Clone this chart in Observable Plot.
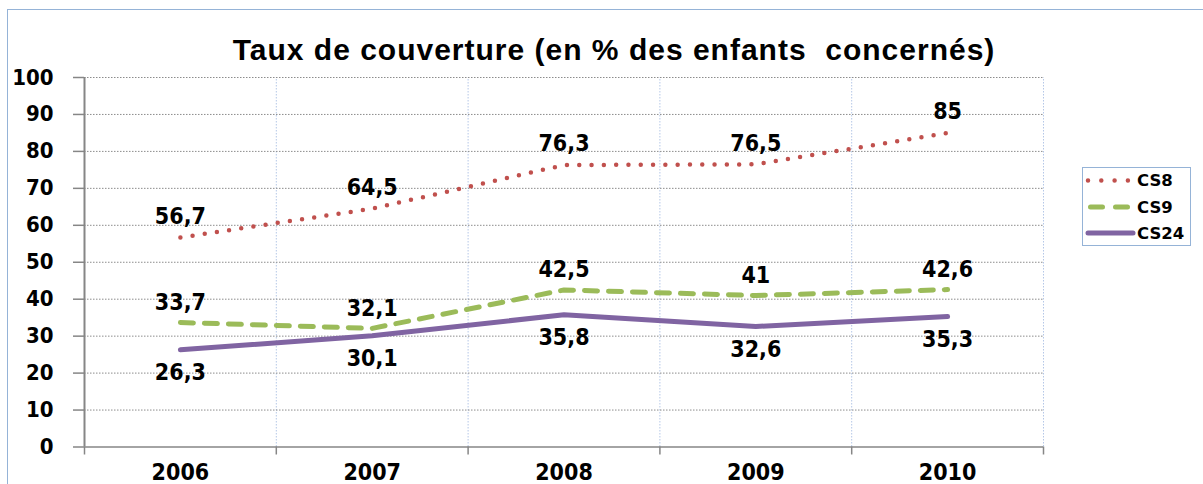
<!DOCTYPE html>
<html><head><meta charset="utf-8">
<script src="https://cdn.jsdelivr.net/npm/d3@7"></script>
<script src="https://cdn.jsdelivr.net/npm/@observablehq/plot@0.6"></script>
<style>
html,body{margin:0;padding:0;background:#fff;overflow:hidden;}
#wrap{position:relative;width:1203px;height:484px;overflow:hidden;}
#frame{position:absolute;left:7px;top:9px;width:1300px;height:600px;border:1.5px solid #95b3d7;box-sizing:border-box;}
#title{position:absolute;left:0;width:1228px;top:35px;text-align:center;font:bold 30px "Liberation Sans",Arial,sans-serif;letter-spacing:1px;white-space:pre;line-height:30px;color:#000;}
#chart{position:absolute;left:0;top:0;}
#chart text{font-family:"DejaVu Sans Condensed","DejaVu Sans",sans-serif;font-weight:bold;font-stretch:condensed;fill:#000;}
#legend{position:absolute;left:1082px;top:167px;width:109px;height:79px;border:1.5px solid #95b3d7;box-sizing:border-box;background:#fff;}
#legend svg{position:absolute;left:-1.5px;top:-1.5px;}
#legend text{font-family:"DejaVu Sans",sans-serif;font-weight:bold;font-size:16.5px;fill:#000;}
</style></head><body>
<div id="wrap"><div id="frame"></div><div id="chart"></div><div id="title">Taux de couverture (en % des enfants  concernés)</div><div id="legend"></div></div>
<script>
const years = [2006, 2007, 2008, 2009, 2010];
const cs8 = [56.7, 64.5, 76.3, 76.5, 85];
const cs9 = [33.7, 32.1, 42.5, 41, 42.6];
const cs24 = [26.3, 30.1, 35.8, 32.6, 35.3];
const yTicks = [0, 10, 20, 30, 40, 50, 60, 70, 80, 90, 100];
const seriesNames = ["CS8", "CS9", "CS24"];
const seriesColors = ["#c0504d", "#9bbb59", "#8064a2"];

const seriesValues = [cs8, cs9, cs24];
const rows = seriesValues.map(vals => years.map((yr, i) => ({year: yr, value: vals[i]})));
const bounds = years.map(y => y - 0.5).concat([years[years.length - 1] + 0.5]);
const fmt = v => String(v).replace(".", ",");
const gridColor = "#8c8c8c";
const axisColor = "#868686";

const chart = Plot.plot({
  width: 1203,
  height: 484,
  marginLeft: 84,
  marginRight: 160,
  marginTop: 77,
  marginBottom: 37.5,
  style: {background: "transparent", color: "#000", overflow: "visible"},
  x: {type: "linear", domain: [bounds[0], bounds[bounds.length - 1]]},
  y: {domain: [0, 100]},
  marks: [
    Plot.ruleX(bounds.slice(1), {y1: 0, y2: 100, stroke: "#b4c7e7", strokeWidth: 1, strokeDasharray: "1.5,1.5"}),
    Plot.ruleY(yTicks.slice(1), {stroke: gridColor, strokeWidth: 1, strokeDasharray: "1.5,1.5"}),
    Plot.axisY(yTicks, {tickSize: 11, tickPadding: 20, fontSize: 22, stroke: axisColor, strokeWidth: 1.5, label: null, tickFormat: d => String(d)}),
    Plot.axisX(bounds, {tickSize: 8, tickPadding: 0, stroke: axisColor, strokeWidth: 1.5, label: null, tickFormat: () => ""}),
    Plot.axisX(years, {tickSize: 0, tickPadding: 17, fontSize: 23, label: null, tickFormat: d => String(d)}),
    Plot.ruleY([0], {x1: bounds[0], x2: bounds[bounds.length - 1], stroke: axisColor, strokeWidth: 1.5}),
    Plot.ruleX([bounds[0]], {y1: 0, y2: 100, stroke: axisColor, strokeWidth: 2}),
    Plot.line(rows[2], {x: "year", y: "value", stroke: seriesColors[2], strokeWidth: 5, strokeLinecap: "round", strokeLinejoin: "round"}),
    Plot.line(rows[1], {x: "year", y: "value", stroke: seriesColors[1], strokeWidth: 5, strokeLinecap: "round", strokeLinejoin: "round", strokeDasharray: "13,11"}),
    Plot.line(rows[0], {x: "year", y: "value", stroke: seriesColors[0], strokeWidth: 4.5, strokeLinecap: "round", strokeLinejoin: "round", strokeDasharray: "0,12.3"}),
    Plot.text(rows[0], {x: "year", y: "value", text: d => fmt(d.value), dy: -21, fontSize: 23}),
    Plot.text(rows[1], {x: "year", y: "value", text: d => fmt(d.value), dy: -20, fontSize: 23}),
    Plot.text(rows[2], {x: "year", y: "value", text: d => fmt(d.value), dy: 23, fontSize: 23})
  ]
});
document.getElementById("chart").appendChild(chart);

// legend
const lg = d3.select("#legend").append("svg").attr("width", 109).attr("height", 79);
const dashes = ["0,13.3", "12,13", null];
const widths = [4.5, 5, 5];
const ys = [13.5, 40, 66];
seriesNames.forEach((name, i) => {
  const ln = lg.append("line")
    .attr("x1", i === 1 ? 8.5 : 6).attr("x2", i === 1 ? 48 : 51)
    .attr("y1", ys[i]).attr("y2", ys[i])
    .attr("stroke", seriesColors[i]).attr("stroke-width", widths[i])
    .attr("stroke-linecap", "round");
  if (dashes[i]) ln.attr("stroke-dasharray", dashes[i]);
  lg.append("text").attr("x", 55).attr("y", ys[i]).attr("dy", "0.36em").text(name);
});
</script>
</body></html>
